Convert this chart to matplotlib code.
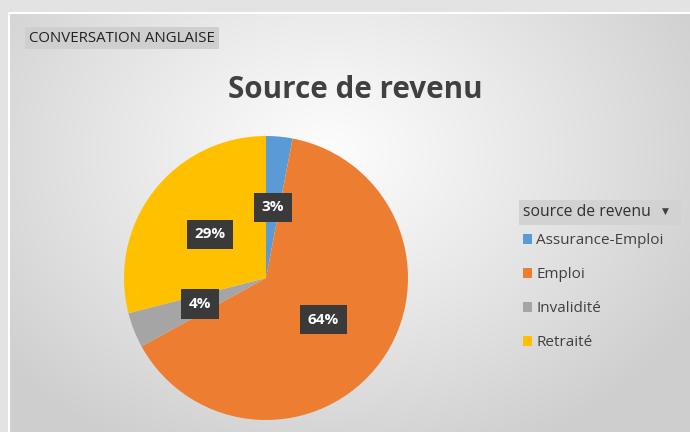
import numpy as np
import matplotlib
matplotlib.use("Agg")
import matplotlib.pyplot as plt
from matplotlib.patches import Rectangle

categories = ["Assurance-Emploi", "Emploi", "Invalidité", "Retraité"]
values = [3, 64, 4, 29]
colors = ["#5B9BD5", "#ED7D31", "#A5A5A5", "#FFC000"]
title = "Source de revenu"
tag = "CONVERSATION ANGLAISE"
legend_title = "source de revenu"

plt.rcParams['font.family'] = ['Open Sans', 'DejaVu Sans']

W, H = 690, 432
fig = plt.figure(figsize=(W / 100, H / 100), dpi=100)
fig.patch.set_facecolor("#e3e3e3")

# chart area with radial gradient
bg = fig.add_axes([8 / W, 0, (W - 8) / W, (H - 12) / H])
bg.set_axis_off()
yy, xx = np.mgrid[0:420, 0:682]
cx, cy = 320, 140
d = np.sqrt(((xx - cx) / 420.0) ** 2 + ((yy - cy) / 330.0) ** 2)
d = np.clip(d, 0, 1)
val = 0.99 - 0.18 * d ** 1.1
img = np.dstack([val, val, val])
bg.imshow(img, aspect="auto", extent=[0, 1, 0, 1], origin="upper")
bg.set_xlim(0, 1)
bg.set_ylim(0, 1)
bg.plot([0.0015, 0.0015], [0, 1], color="white", lw=1.5)
bg.plot([0, 1], [0.998, 0.998], color="white", lw=1.5)

# tag box
fig.text(29 / W, 1 - 38 / H, tag, fontsize=10.8, color="#222222", va="center", ha="left",
         bbox=dict(boxstyle="square,pad=0.25", fc="#cfcfcf", ec="none"))

# title
fig.text(355 / W, 1 - 90 / H, title, fontsize=21.3, fontweight="bold", color="#404040",
         ha="center", va="center")

# pie
R = 142
pcx, pcy = 266, 278
ax = fig.add_axes([(pcx - R) / W, (H - pcy - R) / H, 2 * R / W, 2 * R / H])
wedges, texts, autotexts = ax.pie(values, colors=colors, startangle=90, counterclock=False,
                                  autopct="%1.0f%%", pctdistance=0.5,
                                  wedgeprops=dict(linewidth=0))
for t in autotexts:
    t.set_color("white")
    t.set_fontweight("bold")
    t.set_fontsize(11)
    t.set_bbox(dict(boxstyle="square,pad=0.5", fc="#3a3a3a", ec="none"))
ax.set_xlim(-1, 1)
ax.set_ylim(-1, 1)
ax.set_aspect("equal")

# legend header
fig.patches.append(Rectangle((519 / W, 1 - 225 / H), 162 / W, 25 / H,
                             transform=fig.transFigure, fc="#d2d2d2", ec="none"))
fig.text(523 / W, 1 - 212 / H, legend_title, fontsize=11.3, color="#303030",
         ha="left", va="center")
fig.text(665 / W, 1 - 211 / H, "\u25BC", fontsize=6.5, color="#404040",
         ha="center", va="center", family="DejaVu Sans")

leg = fig.legend(wedges, categories, loc="upper left", bbox_to_anchor=(520 / W, 1 - 230 / H),
                 frameon=False, fontsize=11, handlelength=0.6, handleheight=0.6,
                 handletextpad=0.25, labelspacing=1.25, borderaxespad=0, borderpad=0.2)
for t in leg.get_texts():
    t.set_color("#404040")

fig.savefig("out.png", dpi=100, facecolor=fig.get_facecolor())
